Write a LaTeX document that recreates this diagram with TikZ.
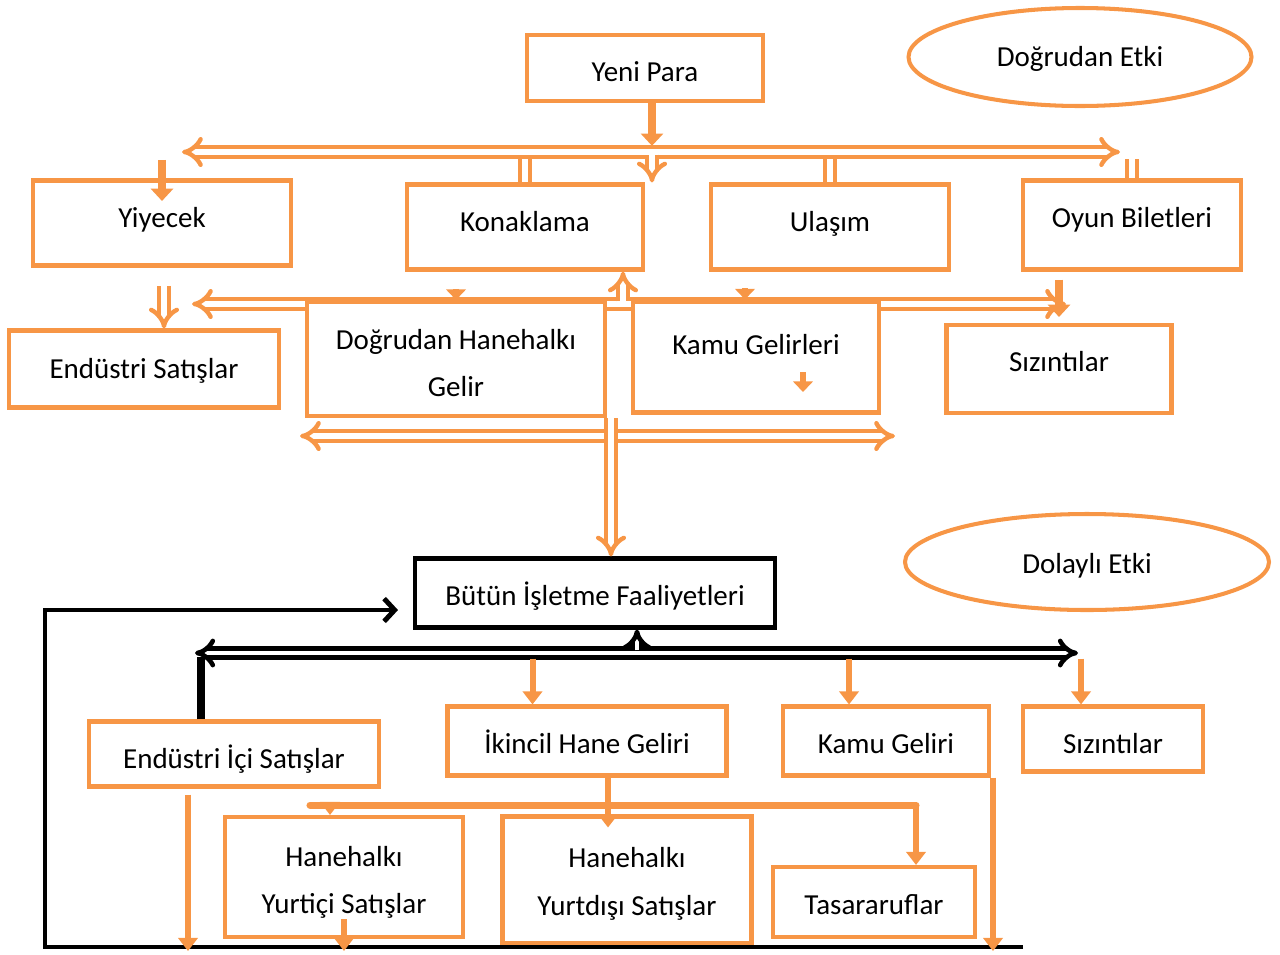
\documentclass[tikz,border=0pt]{standalone}
\usepackage{fontspec}
\setmainfont{Carlito}
\usetikzlibrary{arrows.meta,shapes.geometric}
\definecolor{ora}{HTML}{F79646}
\begin{document}
\begin{tikzpicture}[x=0.02cm,y=-0.02cm,
	sz/.style 2 args={minimum width=#1*0.02cm,minimum height=#2*0.02cm},
	tv/.style={text height=#1,text depth=0pt},
	box/.style={draw=ora,line width=2.3pt,fill=white,inner sep=0pt,font=\fontsize{16.5}{20}\selectfont},
	box2/.style={box,align=center,font=\fontsize{16.5}{27}\selectfont},
	kbox/.style={box,draw=black},
	ell/.style={ellipse,draw=ora,line width=2.3pt,inner sep=0pt,font=\fontsize{16.5}{20}\selectfont},
	dbl/.style={draw=ora,line width=2.5pt,double=white,double distance=3pt},
	kdbl/.style={draw=black,line width=2.6pt,double=white,double distance=2.6pt},
	blk/.style={draw=ora,line width=4.5pt,-{Triangle[length=7pt,width=12.5pt]}},
	sblk/.style={draw=ora,line width=3pt,-{Triangle[length=6pt,width=11pt]}},
	oarr/.style={draw=ora,line width=3.4pt,-{Triangle[length=7.5pt,width=11pt]}},
	karr/.style={draw=black,line width=2.8pt,-{Straight Barb[length=6pt,width=13pt]}}]
	\useasboundingbox (0,0) rectangle (1280,954);

	\node[box,sz={236}{66},tv=15pt] (yeni) at (645,68) {Yeni Para};
	\node[ell,sz={343}{98},tv=10.6pt] (detki) at (1080,57) {Doğrudan Etki};
	\node[box,sz={258}{85},tv=5pt] (yiy) at (162,223) {Yiyecek};
	\node[box,sz={236}{85},tv=5pt] (konak) at (525,227) {Konaklama};
	\node[box,sz={238}{85},tv=5pt] (ulasim) at (830,227) {Ulaşım};
	\node[box,sz={218}{89},tv=2.7pt] (oyun) at (1132,225) {Oyun Biletleri};
	\node[box,sz={270}{77},tv=10.6pt] (es) at (144,369) {Endüstri Satışlar};
	\node[box,sz={225}{88},tv=2.7pt] (siz1) at (1059,369) {Sızıntılar};

	\coordinate (tl) at (182,152);
	\coordinate (tr) at (1120,152);
	\coordinate (tm) at (652,152);
	\draw[blk] (yeni.south -| tm) -- ([yshift=3.5pt]tm);
	\draw[dbl,Implies-Implies] (tl) -- (tr);
	\draw[dbl,-Implies] ([yshift=-1.5pt]tm) -- (tm |- konak.north);
	\draw[blk] ([yshift=-4.5pt]tl -| yiy.north) -- ([yshift=-0.45cm]yiy.north);
	\draw[dbl] ([yshift=-4pt]tl -| konak.north) -- (konak.north);
	\draw[dbl] ([yshift=-4pt]tl -| ulasim.north) -- (ulasim.north);
	\draw[dbl] ([yshift=-4pt]tl -| oyun.north) -- (oyun.north);

	\coordinate (ml) at (192,304);
	\coordinate (mr) at (1066,304);
	\coordinate (mu) at (623,304);
	\coordinate (lm) at (611,436);
	\draw[dbl,Implies-Implies] (ml) -- (mr);
	\draw[dbl,-Implies] ([yshift=1.5pt]mu) -- (mu |- konak.south);

	\node[box2,sz={298}{114},tv=43pt] (dhg) at (456,359) {Doğrudan Hanehalkı\\Gelir};
	\node[box,sz={246}{111},text depth=0.5cm] (kamu) at (756,357) {Kamu Gelirleri};
	\draw[sblk] ([yshift=0.22cm]dhg.north) -- (dhg.north);
	\draw[sblk] ([xshift=-0.22cm,yshift=0.22cm]kamu.north) -- ([xshift=-0.22cm]kamu.north);
	\draw[sblk] ([xshift=0.94cm,yshift=-0.3cm]kamu.center) -- ([xshift=0.94cm,yshift=-0.7cm]kamu.center);
	\draw[blk] ([yshift=-0.16cm]oyun.south -| siz1.north) -- ([yshift=0.12cm]siz1.north);
	\draw[dbl,-Implies] ([xshift=0.4cm,yshift=0.85cm]es.north) -- ([xshift=0.4cm]es.north);

	\node[kbox,sz={360}{69},tv=14pt] (but) at (595,593) {Bütün İşletme Faaliyetleri};
	\node[ell,sz={364}{96},tv=12.9pt] (dolayli) at (1087,562) {Dolaylı Etki};

	\coordinate (ll) at (300,436);
	\coordinate (lr) at (895,436);
	\draw[dbl,Implies-Implies] (ll) -- (lr);
	\draw[dbl,-Implies] (lm |- dhg.south) -- (lm |- but.north);

	\node[box,sz={290}{65},tv=16.3pt] (eis) at (234,754) {Endüstri İçi Satışlar};
	\node[box,sz={279}{69},tv=14pt] (ihg) at (587,741) {İkincil Hane Geliri};
	\node[box,sz={206}{69},tv=14pt] (kg) at (886,741) {Kamu Geliri};
	\node[box,sz={180}{65},tv=16.3pt] (siz2) at (1113,739) {Sızıntılar};
	\node[box2,sz={238}{120},tv=42pt] (hyi) at (344,877) {Hanehalkı\\Yurtiçi Satışlar};
	\node[box2,sz={249}{127},tv=40pt] (hyd) at (627,880) {Hanehalkı\\Yurtdışı Satışlar};
	\node[box,sz={202}{70},tv=14pt] (tas) at (874,902) {Tasararuflar};

	\coordinate (bl) at (195,653);
	\coordinate (br) at (1078,653);
	\coordinate (bm) at (637,653);
	\draw[kdbl,Implies-Implies] (bl) -- (br);
	\draw[kdbl,-Implies] ([yshift=1.5pt]bm) -- (bm |- but.south);
	\draw[black,line width=4.5pt] ([xshift=-0.66cm]eis.north) -- ++(0,-62);

	\coordinate (kb) at (1023,947);
	\coordinate (lpb) at (45,947);
	\coordinate (lpt) at (45,610);
	\draw[karr] (kb) -- (lpb) -- (lpt) -- ([xshift=-0.3cm]lpt -| but.west);

	\draw[oarr] ([xshift=-1.09cm,yshift=0.92cm]ihg.north) -- ([xshift=-1.09cm]ihg.north);
	\draw[oarr] ([xshift=-0.74cm,yshift=0.92cm]kg.north) -- ([xshift=-0.74cm]kg.north);
	\draw[oarr] ([xshift=-0.64cm,yshift=0.92cm]siz2.north) -- ([xshift=-0.64cm]siz2.north);

	\coordinate (hl) at (310,805);
	\coordinate (hr) at (916,805);
	\coordinate (ym) at (608,805);
	\coordinate (yl) at (330,805);
	\draw[ora,line width=4pt,line cap=round] (hl) -- (hr);
	\draw[oarr] (ihg.south -| ym) -- ([yshift=-0.26cm]hyd.north -| ym);
	\draw[oarr] (yl) -- (yl |- hyi.north);
	\draw[oarr] (hr) -- (hr |- tas.north);

	\coordinate (eisdrop) at (188,951);
	\coordinate (kgdrop) at (993,951);
	\draw[oarr] ([yshift=-0.12cm]eis.south -| eisdrop) -- (eisdrop);
	\draw[oarr] ([yshift=0.4cm]hyi.south) -- (hyi.south |- eisdrop);
	\draw[oarr] (kgdrop |- kg.south) -- (kgdrop);
\end{tikzpicture}
\end{document}
